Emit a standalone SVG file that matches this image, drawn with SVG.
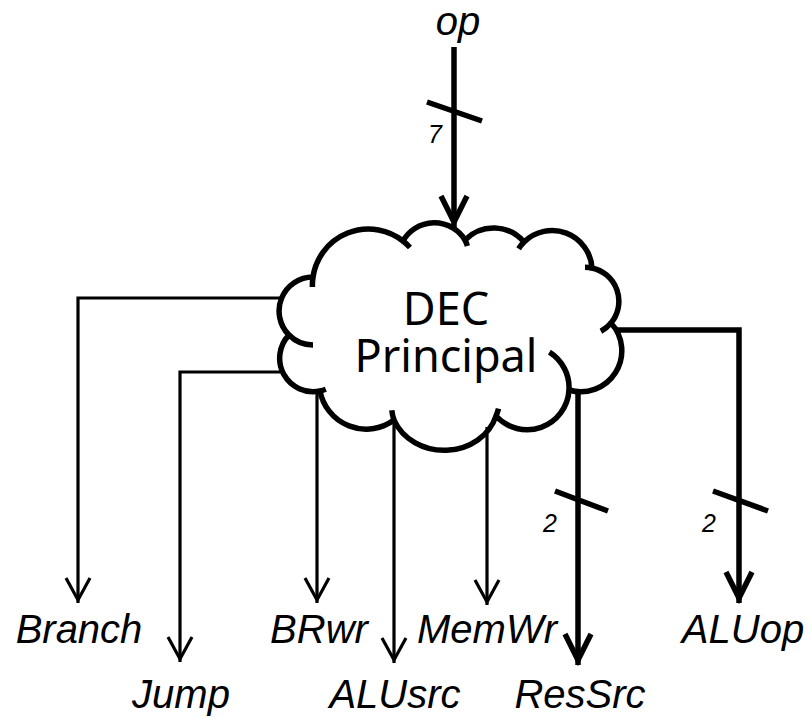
<svg xmlns="http://www.w3.org/2000/svg" width="808" height="717" viewBox="0 0 808 717">
<style>
.cloud{fill:#fff;stroke:#000;stroke-width:5.5;stroke-linejoin:round}
.hook{fill:none;stroke:#000;stroke-width:5.5}
.thin{fill:none;stroke:#000;stroke-width:3.2;marker-end:url(#arrT)}
.bold{fill:none;stroke:#000;stroke-width:5.5;marker-end:url(#arrB)}
.slash{stroke:#000;stroke-width:5.5}
.lbl{font-family:"Liberation Sans",Arial,sans-serif;font-style:italic;font-size:40px;text-anchor:middle;fill:#000}
.num{font-family:"Liberation Sans",Arial,sans-serif;font-style:italic;font-size:25px;text-anchor:middle;fill:#000}
.dec{font-family:"Noto Sans","Open Sans",sans-serif;font-size:45px;text-anchor:middle;fill:#000}
</style>
<defs>
<marker id="arrT" markerUnits="userSpaceOnUse" orient="auto" refX="3" refY="0" markerWidth="40" markerHeight="40" overflow="visible">
<path d="M -22 -12 L 0 0 L -22 12" fill="none" stroke="#000" stroke-width="3.2"/>
</marker>
<marker id="arrB" markerUnits="userSpaceOnUse" orient="auto" refX="5" refY="0" markerWidth="40" markerHeight="40" overflow="visible">
<path d="M -26 -13 L 0 0 L -26 13" fill="none" stroke="#000" stroke-width="5.5"/>
</marker>
</defs>
<g id="node-dec">
<path class="cloud" d="M 289 335 A 34 34 0 0 1 313 277 A 56 56 0 0 1 403 241 A 36 36 0 0 1 465 240 A 40 40 0 0 1 524 242 A 40 40 0 0 1 592 268 A 34 34 0 0 1 611 323 A 41 41 0 0 1 569 390 A 42 42 0 0 1 496 416 A 54 48 0 0 1 394 420 A 47 47 0 0 1 320 391 A 33.5 33.5 0 0 1 289 335 Z"/>
<path class="hook" d="M 289 335 A 34 34 0 0 0 313 345 M 313 277 A 56 56 0 0 0 312.4 287 M 403 241 A 56 56 0 0 1 410 247.5 M 465 240 A 36 36 0 0 1 467.4 246 M 524 242 A 40 40 0 0 0 518.6 248.7 M 592 268 A 34 34 0 0 0 585 267.2 M 611 323 A 34 34 0 0 1 600.9 331.2 M 569 390 A 42 42 0 0 0 549.4 352.1 M 496 416 A 54 48 0 0 0 498.5 408.7 M 394 420 A 54 48 0 0 1 391.8 410.3 M 320 391 A 33.5 33.5 0 0 0 325.8 389.3"/>
<text class="dec" x="446" y="325">DEC</text>
<text class="dec" x="446" y="372">Principal</text>
</g>
<g id="connectors">
<path id="c-op" class="bold" d="M 454 47 V 227"/>
<line class="slash" x1="427" y1="102" x2="482" y2="121"/>
<path id="c-branch" class="thin" d="M 281 298 H 78 V 603"/>
<path id="c-jump" class="thin" d="M 282 372 H 180 V 662"/>
<path id="c-brwr" class="thin" d="M 317 391 V 603"/>
<path id="c-alusrc" class="thin" d="M 394 419 V 663"/>
<path id="c-memwr" class="thin" d="M 487 427 V 605"/>
<path id="c-ressrc" class="bold" d="M 578 391 V 665"/>
<line class="slash" x1="555" y1="491" x2="608" y2="511"/>
<path id="c-aluop" class="bold" d="M 617 330 H 739 V 603"/>
<line class="slash" x1="713" y1="491" x2="768" y2="511"/>
</g>
<g id="bus-widths">
<text class="num" x="435" y="143">7</text>
<text class="num" x="550" y="532">2</text>
<text class="num" x="709" y="532">2</text>
</g>
<g id="sig-op"><text class="lbl" x="458" y="35">op</text></g>
<g id="sig-branch"><text class="lbl" x="79" y="643">Branch</text></g>
<g id="sig-jump"><text class="lbl" x="181" y="708">Jump</text></g>
<g id="sig-brwr"><text class="lbl" x="319" y="643">BRwr</text></g>
<g id="sig-alusrc"><text class="lbl" x="395" y="708">ALUsrc</text></g>
<g id="sig-memwr"><text class="lbl" x="487" y="643">MemWr</text></g>
<g id="sig-ressrc"><text class="lbl" x="580" y="708">ResSrc</text></g>
<g id="sig-aluop"><text class="lbl" x="743" y="643">ALUop</text></g>
</svg>
